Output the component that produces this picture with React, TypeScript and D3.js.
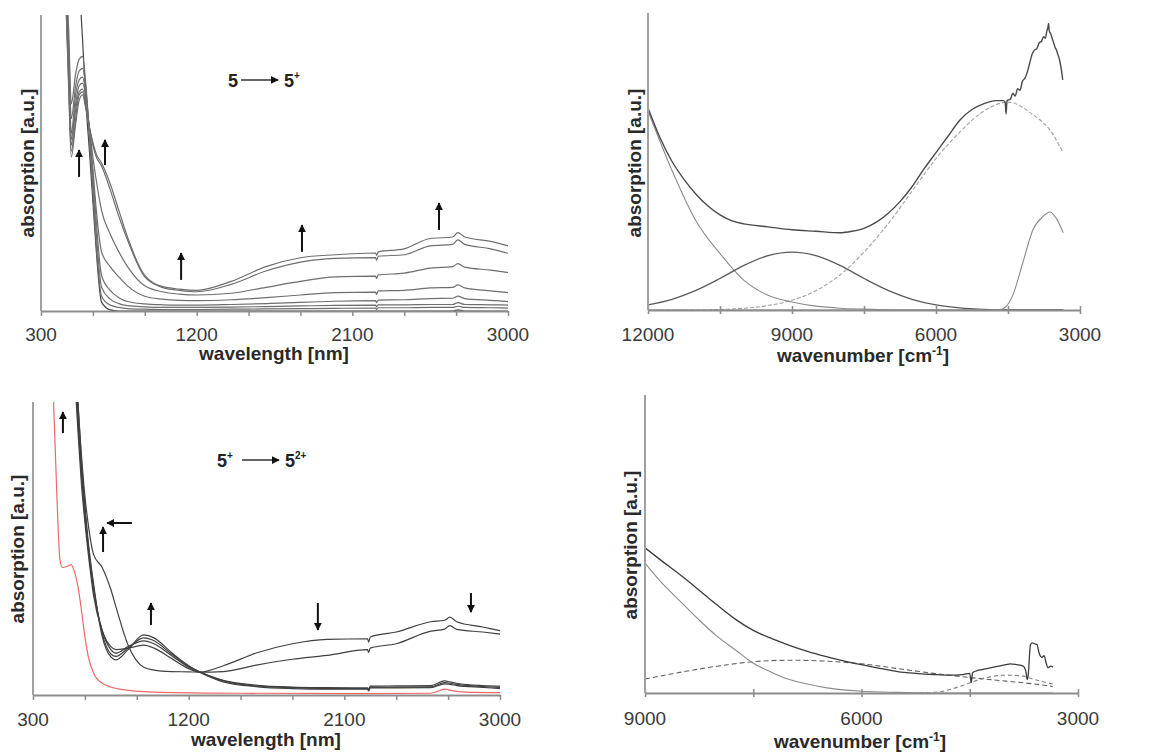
import React, { useEffect, useRef } from "react";
import * as d3 from "d3";

const FONT = "'Liberation Sans', Arial, Helvetica, sans-serif";

// ---------- top left: 5 -> 5+ spectra (wavelength, nm) ----------
const wlTop = [430, 460, 475, 500, 520, 540, 560, 580, 600, 620, 650, 700, 750, 800, 900, 1000, 1100, 1200, 1400, 1600, 1800, 2000, 2235, 2240, 2250, 2400, 2550, 2680, 2710, 2750, 2900, 3000];
const top0 = [1.3, 1.3, 1.3, 1.28, 1.12, 0.92, 0.7, 0.54, 0.37, 0.2, 0.03, 0.004, 0, 0, 0, 0, 0, 0, 0, 0, 0, 0, 0, 0, 0, 0, 0, 0, 0.004, 0, 0, 0];
const top1 = [1.3, 0.95, 0.7, 0.8, 0.85, 0.86, 0.76, 0.58, 0.4, 0.22, 0.05, 0.02, 0.012, 0.008, 0.006, 0.005, 0.005, 0.005, 0.006, 0.007, 0.008, 0.009, 0.01, 0.005, 0.011, 0.011, 0.012, 0.012, 0.016, 0.012, 0.011, 0.01];
const top2 = [1.3, 0.9, 0.65, 0.76, 0.81, 0.82, 0.75, 0.6, 0.43, 0.26, 0.08, 0.04, 0.025, 0.018, 0.014, 0.012, 0.012, 0.012, 0.013, 0.015, 0.017, 0.019, 0.02, 0.014, 0.021, 0.021, 0.022, 0.022, 0.028, 0.022, 0.021, 0.02];
const top3 = [1.3, 0.85, 0.6, 0.73, 0.78, 0.79, 0.73, 0.61, 0.46, 0.3, 0.12, 0.07, 0.045, 0.032, 0.024, 0.021, 0.02, 0.02, 0.022, 0.025, 0.029, 0.033, 0.035, 0.028, 0.037, 0.038, 0.042, 0.043, 0.05, 0.042, 0.036, 0.032];
const top4 = [1.3, 0.82, 0.58, 0.7, 0.76, 0.77, 0.72, 0.61, 0.48, 0.34, 0.2, 0.15, 0.115, 0.085, 0.05, 0.04, 0.036, 0.035, 0.038, 0.045, 0.054, 0.062, 0.064, 0.056, 0.068, 0.07, 0.078, 0.08, 0.088, 0.078, 0.068, 0.062];
const top5 = [1.3, 0.8, 0.56, 0.68, 0.74, 0.75, 0.7, 0.62, 0.52, 0.44, 0.34, 0.26, 0.2, 0.15, 0.085, 0.065, 0.057, 0.054, 0.06, 0.08, 0.1, 0.115, 0.118, 0.11, 0.122, 0.128, 0.145, 0.15, 0.16, 0.148, 0.138, 0.13];
const top6 = [1.3, 0.77, 0.54, 0.65, 0.73, 0.74, 0.69, 0.62, 0.56, 0.52, 0.49, 0.41, 0.32, 0.24, 0.115, 0.08, 0.07, 0.065, 0.09, 0.135, 0.165, 0.178, 0.18, 0.172, 0.185, 0.19, 0.22, 0.225, 0.24, 0.225, 0.21, 0.195];
const top7 = [1.3, 0.75, 0.52, 0.63, 0.71, 0.73, 0.68, 0.62, 0.57, 0.53, 0.5, 0.43, 0.34, 0.25, 0.12, 0.083, 0.074, 0.07, 0.1, 0.15, 0.18, 0.19, 0.196, 0.188, 0.2, 0.21, 0.245, 0.25, 0.265, 0.25, 0.235, 0.22];
const topArrows = [
  { x0: 520, y0: 0.453, x1: 520, y1: 0.544 },
  { x0: 670, y0: 0.493, x1: 670, y1: 0.578 },
  { x0: 1110, y0: 0.105, x1: 1110, y1: 0.196 },
  { x0: 1809, y0: 0.2, x1: 1809, y1: 0.29 },
  { x0: 2601, y0: 0.274, x1: 2601, y1: 0.365 },
];

// ---------- bottom left: 5+ -> 52+ spectra ----------
const wlBot = [540, 560, 580, 600, 620, 650, 700, 750, 780, 850, 940, 1000, 1100, 1200, 1265, 1400, 1600, 1800, 2000, 2235, 2240, 2250, 2400, 2600, 2680, 2710, 2750, 2900, 3000];
const bot0 = [1.3, 1.0, 0.82, 0.68, 0.58, 0.48, 0.435, 0.36, 0.3, 0.17, 0.095, 0.085, 0.08, 0.079, 0.078, 0.1, 0.145, 0.175, 0.19, 0.192, 0.18, 0.198, 0.215, 0.25, 0.255, 0.266, 0.25, 0.232, 0.22];
const bot1 = [1.1, 0.9, 0.72, 0.59, 0.48, 0.34, 0.22, 0.165, 0.155, 0.16, 0.17, 0.16, 0.125, 0.09, 0.078, 0.08, 0.103, 0.122, 0.135, 0.155, 0.145, 0.16, 0.175, 0.218, 0.225, 0.237, 0.224, 0.215, 0.208];
const bot2 = [1.15, 0.93, 0.75, 0.61, 0.5, 0.36, 0.22, 0.155, 0.143, 0.165, 0.185, 0.175, 0.135, 0.095, 0.078, 0.05, 0.033, 0.027, 0.025, 0.024, 0.018, 0.03, 0.031, 0.032, 0.048, 0.045, 0.04, 0.032, 0.03];
const bot3 = [1.2, 0.96, 0.78, 0.63, 0.51, 0.37, 0.21, 0.14, 0.132, 0.16, 0.195, 0.185, 0.14, 0.098, 0.078, 0.048, 0.03, 0.025, 0.022, 0.022, 0.016, 0.027, 0.027, 0.028, 0.042, 0.04, 0.036, 0.029, 0.026];
const bot4 = [1.25, 1.0, 0.8, 0.65, 0.52, 0.38, 0.2, 0.13, 0.12, 0.155, 0.205, 0.195, 0.145, 0.1, 0.078, 0.045, 0.028, 0.022, 0.02, 0.02, 0.014, 0.024, 0.024, 0.025, 0.038, 0.036, 0.032, 0.026, 0.022];
const wlRed = [410, 420, 440, 456, 470, 500, 520, 540, 560, 580, 600, 620, 650, 700, 800, 1000, 1500, 2200, 2600, 2680, 2720, 2800, 3000];
const redVals = [1.2, 0.98, 0.65, 0.46, 0.435, 0.44, 0.445, 0.42, 0.37, 0.29, 0.2, 0.13, 0.075, 0.04, 0.02, 0.01, 0.006, 0.005, 0.006, 0.02, 0.015, 0.01, 0.008];
const botArrows = [
  { x0: 473, y0: 0.894, x1: 473, y1: 0.966 },
  { x0: 705, y0: 0.488, x1: 705, y1: 0.573 },
  { x0: 872, y0: 0.587, x1: 728, y1: 0.587 },
  { x0: 982, y0: 0.239, x1: 982, y1: 0.314 },
  { x0: 1947, y0: 0.314, x1: 1947, y1: 0.222 },
  { x0: 2832, y0: 0.348, x1: 2832, y1: 0.283 },
];

// ---------- top right: band deconvolution of 5+ (wavenumber) ----------
const wnFit = [12000, 11500, 11000, 10500, 10000, 9500, 9000, 8500, 8000, 7500, 7000, 6500, 6000, 5500, 5000, 4500, 4000, 3600, 3350];
const bandA = [0.67, 0.47, 0.3, 0.19, 0.1, 0.05, 0.027, 0.013, 0.006, 0.003, 0.001, 0, 0, 0, 0, 0, 0, 0, 0];
const bandB = [0.017, 0.036, 0.066, 0.106, 0.15, 0.183, 0.195, 0.183, 0.15, 0.106, 0.066, 0.036, 0.017, 0.007, 0.002, 0, 0, 0, 0];
const bandC = [0, 0, 0, 0.002, 0.006, 0.015, 0.033, 0.065, 0.118, 0.195, 0.29, 0.4, 0.51, 0.6, 0.67, 0.7, 0.66, 0.6, 0.53];
const wnBandD = [12000, 4700, 4550, 4400, 4190, 3980, 3770, 3625, 3500, 3350];
const bandD = [0, 0, 0.01, 0.05, 0.16, 0.27, 0.315, 0.33, 0.31, 0.26];
const wnExpTop = [12000, 11750, 11500, 11250, 11000, 10750, 10500, 10250, 10000, 9500, 9000, 8500, 8000, 7750, 7500, 7250, 7000, 6750, 6500, 6250, 6000, 5750, 5500, 5250, 5000, 4750, 4600, 4560, 4540, 4520, 4450, 4400, 4350, 4300, 4250, 4200, 4150, 4100, 4050, 4000, 3950, 3900, 3850, 3800, 3760, 3720, 3690, 3670, 3655, 3640, 3610, 3580, 3550, 3520, 3490, 3460, 3430, 3400, 3380, 3360];
const expTop = [0.68, 0.58, 0.5, 0.44, 0.39, 0.35, 0.32, 0.3, 0.29, 0.28, 0.27, 0.265, 0.26, 0.265, 0.275, 0.295, 0.325, 0.365, 0.415, 0.475, 0.53, 0.585, 0.64, 0.675, 0.695, 0.705, 0.705, 0.7, 0.66, 0.705, 0.71, 0.73, 0.72, 0.745, 0.74, 0.77, 0.78, 0.8, 0.83, 0.86, 0.875, 0.88, 0.9, 0.905, 0.92, 0.915, 0.94, 0.95, 0.965, 0.94, 0.93, 0.915, 0.9, 0.885, 0.875, 0.86, 0.845, 0.82, 0.8, 0.775];

// ---------- bottom right: band deconvolution of 52+ ----------
const wnSolid = [9000, 8750, 8500, 8250, 8000, 7750, 7500, 7250, 7000, 6750, 6500, 6000, 5500, 5000, 4500, 4000, 3350];
const bandSolid = [0.436, 0.365, 0.305, 0.245, 0.19, 0.145, 0.1, 0.07, 0.045, 0.03, 0.018, 0.006, 0.002, 0, 0, 0, 0];
const wnBroad = [9000, 8500, 8000, 7500, 7000, 6500, 6000, 5500, 5000, 4500, 4000, 3600, 3350];
const bandBroad = [0.047, 0.07, 0.09, 0.105, 0.11, 0.107, 0.098, 0.082, 0.066, 0.052, 0.04, 0.03, 0.022];
const wnNarrow = [5200, 4900, 4600, 4300, 4000, 3800, 3600, 3350];
const bandNarrow = [0, 0.005, 0.025, 0.05, 0.06, 0.058, 0.045, 0.03];
const wnExpBot = [9000, 8750, 8500, 8250, 8000, 7750, 7500, 7250, 7000, 6750, 6500, 6250, 6000, 5750, 5500, 5250, 5000, 4800, 4600, 4500, 4480, 4460, 4400, 4300, 4200, 4100, 4000, 3940, 3850, 3760, 3720, 3705, 3690, 3660, 3636, 3600, 3567, 3540, 3500, 3470, 3440, 3420, 3380, 3345];
const expBot = [0.487, 0.44, 0.394, 0.345, 0.295, 0.248, 0.21, 0.183, 0.16, 0.14, 0.123, 0.108, 0.095, 0.083, 0.072, 0.066, 0.062, 0.06, 0.062, 0.066, 0.035, 0.068, 0.075, 0.08, 0.085, 0.09, 0.095, 0.098, 0.095, 0.09, 0.07, 0.045, 0.06, 0.16, 0.168, 0.165, 0.162, 0.135, 0.12, 0.125, 0.1, 0.085, 0.09, 0.087];

type Series = { xs: number[]; ys: number[]; color: string; width: number; dash?: string };
type Arrow = { x0: number; y0: number; x1: number; y1: number };

type Panel = {
  id: string;
  left: number; right: number; top: number; bottom: number;
  domain: [number, number];
  ticks: number[];
  labels: number[];
  crossTicks: boolean;
  labelDy: number;
  title: string; titleSup?: string; titleX: number; titleDy: number;
  yTitleX: number; yTitleY: number;
  series: Series[];
  arrows?: Arrow[];
  reaction?: { x: number; y: number; from: string; fromSup?: string; to: string; toSup: string };
};

const grayLines = (ys: number[][]): Series[] =>
  ys.map((v, i) => ({ xs: wlTop, ys: v, color: i === 0 ? "#444" : "#6e6e6e", width: 1.2 }));

const panels: Panel[] = [
  {
    id: "tl", left: 41, right: 508, top: 15, bottom: 311,
    domain: [300, 3000], ticks: d3.range(300, 3001, 300), labels: [300, 1200, 2100, 3000],
    crossTicks: false, labelDy: 30, title: "wavelength [nm]", titleX: 274, titleDy: 49,
    yTitleX: 34, yTitleY: 163,
    series: grayLines([top0, top1, top2, top3, top4, top5, top6, top7]),
    arrows: topArrows,
    reaction: { x: 1381, y: 0.757, from: "5", to: "5", toSup: "+" },
  },
  {
    id: "tr", left: 648, right: 1080, top: 13, bottom: 310,
    domain: [12000, 3000], ticks: d3.range(12000, 2999, -1500), labels: [12000, 9000, 6000, 3000],
    crossTicks: true, labelDy: 31, title: "wavenumber [cm", titleSup: "-1", titleX: 863, titleDy: 52,
    yTitleX: 641, yTitleY: 163,
    series: [
      { xs: wnFit, ys: bandC, color: "#a0a0a0", width: 1.1, dash: "4,2" },
      { xs: wnFit, ys: bandA, color: "#8a8a8a", width: 1.1 },
      { xs: wnFit, ys: bandB, color: "#5a5a5a", width: 1.3 },
      { xs: wnBandD, ys: bandD, color: "#8a8a8a", width: 1.1 },
      { xs: wnExpTop, ys: expTop, color: "#4a4a4a", width: 1.4 },
    ],
  },
  {
    id: "bl", left: 33, right: 500, top: 402, bottom: 695,
    domain: [300, 3000], ticks: d3.range(300, 3001, 300), labels: [300, 1200, 2100, 3000],
    crossTicks: false, labelDy: 31, title: "wavelength [nm]", titleX: 266, titleDy: 51,
    yTitleX: 24, yTitleY: 549,
    series: [
      { xs: wlRed, ys: redVals, color: "#f06868", width: 1.2 },
      ...[bot0, bot1, bot2, bot3, bot4].map(v => ({ xs: wlBot, ys: v, color: "#404040", width: 1.2 })),
    ],
    arrows: botArrows,
    reaction: { x: 1364, y: 0.778, from: "5", fromSup: "+", to: "5", toSup: "2+" },
  },
  {
    id: "br", left: 645, right: 1078, top: 395, bottom: 693,
    domain: [9000, 3000], ticks: d3.range(9000, 2999, -1500), labels: [9000, 6000, 3000],
    crossTicks: true, labelDy: 32, title: "wavenumber [cm", titleSup: "-1", titleX: 860, titleDy: 55,
    yTitleX: 637, yTitleY: 545,
    series: [
      { xs: wnBroad, ys: bandBroad, color: "#606060", width: 1.1, dash: "5,3" },
      { xs: wnNarrow, ys: bandNarrow, color: "#808080", width: 1.1, dash: "4,3" },
      { xs: wnSolid, ys: bandSolid, color: "#8a8a8a", width: 1.1 },
      { xs: wnExpBot, ys: expBot, color: "#3c3c3c", width: 1.3 },
    ],
  },
];

export default function App() {
  const svgRef = useRef<SVGSVGElement>(null);

  useEffect(() => {
    const svg = d3.select(svgRef.current);
    svg.selectAll("*").remove();

    const defs = svg.append("defs");
    defs.append("marker")
      .attr("id", "head")
      .attr("viewBox", "0 0 10 10")
      .attr("refX", 9)
      .attr("refY", 5)
      .attr("markerUnits", "userSpaceOnUse")
      .attr("markerWidth", 8)
      .attr("markerHeight", 8)
      .attr("orient", "auto")
      .append("path")
      .attr("d", "M0,0 L10,5 L0,10 z")
      .attr("fill", "#111");

    panels.forEach(p => {
      const x = d3.scaleLinear().domain(p.domain).range([p.left, p.right]);
      const y = d3.scaleLinear().domain([0, 1]).range([p.bottom, p.top]);
      const g = svg.append("g");

      defs.append("clipPath").attr("id", `clip-${p.id}`)
        .append("rect")
        .attr("x", p.left).attr("y", p.top)
        .attr("width", p.right - p.left + 2).attr("height", p.bottom - p.top + 1);

      const plot = g.append("g").attr("clip-path", `url(#clip-${p.id})`);
      p.series.forEach(s => {
        const line = d3.line<number>()
          .x((_, i) => x(s.xs[i]))
          .y(d => y(d))
          .curve(d3.curveMonotoneX);
        plot.append("path")
          .datum(s.ys)
          .attr("fill", "none")
          .attr("stroke", s.color)
          .attr("stroke-width", s.width)
          .attr("stroke-dasharray", s.dash ?? null)
          .attr("d", line);
      });

      // axes
      const ax = g.append("g")
        .attr("transform", `translate(0,${p.bottom})`)
        .call(d3.axisBottom(x).tickValues(p.ticks).tickSize(5).tickSizeOuter(0).tickFormat(() => ""));
      ax.select(".domain").attr("stroke", "#8c8c8c").attr("stroke-width", 2);
      ax.selectAll(".tick line")
        .attr("stroke", "#8c8c8c")
        .attr("stroke-width", 1.5)
        .attr("y1", p.crossTicks ? -4 : 0)
        .attr("y2", p.crossTicks ? 4 : 5);

      g.append("line")
        .attr("x1", p.left).attr("x2", p.left)
        .attr("y1", p.top).attr("y2", p.bottom)
        .attr("stroke", "#a0a0a0").attr("stroke-width", 2);

      g.selectAll(null)
        .data(p.labels)
        .join("text")
        .attr("x", d => x(d))
        .attr("y", p.bottom + p.labelDy)
        .attr("text-anchor", "middle")
        .attr("font-family", FONT)
        .attr("font-size", 19)
        .attr("fill", "#3a3a3a")
        .text(d => String(d));

      const t = g.append("text")
        .attr("x", p.titleX)
        .attr("y", p.bottom + p.titleDy)
        .attr("text-anchor", "middle")
        .attr("font-family", FONT)
        .attr("font-weight", "bold")
        .attr("font-size", 19)
        .attr("fill", "#2a2a2a");
      t.append("tspan").text(p.title);
      if (p.titleSup) {
        t.append("tspan").attr("dy", -7).attr("font-size", 12).text(p.titleSup);
        t.append("tspan").attr("dy", 7).text("]");
      }

      g.append("text")
        .attr("transform", `translate(${p.yTitleX},${p.yTitleY}) rotate(-90)`)
        .attr("text-anchor", "middle")
        .attr("font-family", FONT)
        .attr("font-weight", "bold")
        .attr("font-size", 19)
        .attr("fill", "#2a2a2a")
        .text("absorption [a.u.]");

      (p.arrows ?? []).forEach(a => {
        g.append("line")
          .attr("x1", x(a.x0)).attr("y1", y(a.y0))
          .attr("x2", x(a.x1)).attr("y2", y(a.y1))
          .attr("stroke", "#111")
          .attr("stroke-width", 2)
          .attr("marker-end", "url(#head)");
      });

      if (p.reaction) {
        const r = p.reaction;
        const rx = x(r.x);
        const ry = y(r.y);
        const txt = (tx: number, main: string, sup?: string) => {
          const e = g.append("text")
            .attr("x", tx).attr("y", ry)
            .attr("font-family", FONT)
            .attr("font-weight", "bold")
            .attr("font-size", 18)
            .attr("fill", "#222");
          e.append("tspan").text(main);
          if (sup) e.append("tspan").attr("dy", -8).attr("font-size", 10).text(sup);
        };
        txt(rx, r.from, r.fromSup);
        const a0 = rx + (r.fromSup ? 25 : 13);
        g.append("line")
          .attr("x1", a0).attr("y1", ry - 7)
          .attr("x2", a0 + 37).attr("y2", ry - 7)
          .attr("stroke", "#333")
          .attr("stroke-width", 1.5)
          .attr("marker-end", "url(#head)");
        txt(a0 + 43, r.to, r.toSup);
      }
    });
  }, []);

  return (
    <svg
      ref={svgRef}
      width={1160}
      height={755}
      style={{ position: "absolute", left: 0, top: 0, background: "#fff" }}
    />
  );
}
